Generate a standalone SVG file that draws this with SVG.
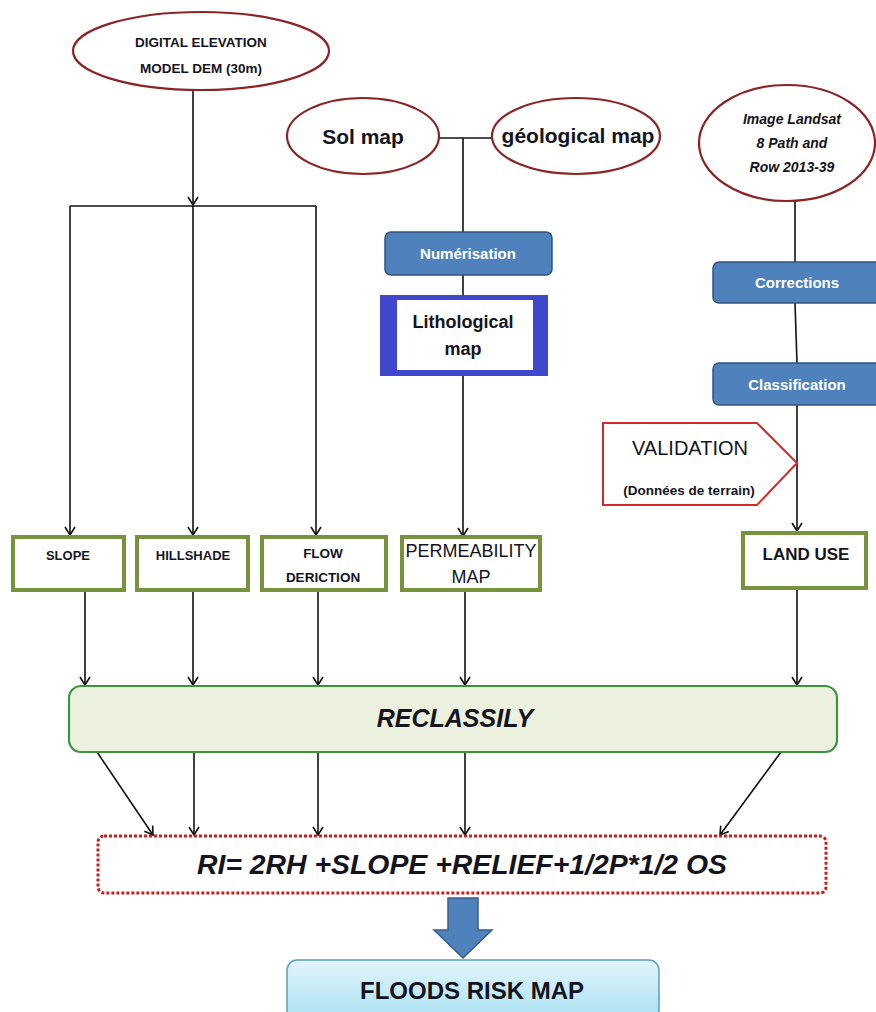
<svg xmlns="http://www.w3.org/2000/svg" width="876" height="1012" viewBox="0 0 876 1012">
<defs>
<marker id="arr" markerWidth="12" markerHeight="12" refX="10" refY="6" orient="auto" markerUnits="userSpaceOnUse">
<path d="M2,1 L10,6 L2,11" fill="none" stroke="#111" stroke-width="1.6"/>
</marker>
<linearGradient id="gblue" x1="0" y1="0" x2="0" y2="1">
<stop offset="0" stop-color="#e3f6fc"/>
<stop offset="1" stop-color="#a9e0f2"/>
</linearGradient>
<style>
.ell{fill:#fff;stroke:#8b2525;stroke-width:2.2}
.t{font-family:"Liberation Sans",Arial,sans-serif;fill:#141420;text-anchor:middle}
.b{font-weight:bold}
.i{font-style:italic}
.proc{fill:#4f81bd;stroke:#2f5481;stroke-width:1.5}
.pt{font-family:"Liberation Sans",Arial,sans-serif;fill:#fff;font-weight:bold;text-anchor:middle;font-size:15px}
.gbox{fill:#fff;stroke:#77933c;stroke-width:4}
.ln{fill:none;stroke:#111;stroke-width:1.6}
</style>
</defs>

<g id="connectors">
<line class="ln" x1="193" y1="90" x2="193" y2="205" marker-end="url(#arr)"/>
<line class="ln" x1="70" y1="206" x2="316" y2="206"/>
<line class="ln" x1="70" y1="206" x2="70" y2="535" marker-end="url(#arr)"/>
<line class="ln" x1="193" y1="206" x2="193" y2="535" marker-end="url(#arr)"/>
<line class="ln" x1="316" y1="206" x2="316" y2="535" marker-end="url(#arr)"/>
<line class="ln" x1="438" y1="138" x2="492" y2="138"/>
<line class="ln" x1="463" y1="138" x2="463" y2="232"/>
<line class="ln" x1="463" y1="275" x2="463" y2="296"/>
<line class="ln" x1="463" y1="376" x2="463" y2="536" marker-end="url(#arr)"/>
<line class="ln" x1="795" y1="200" x2="795" y2="262"/>
<line class="ln" x1="795" y1="303" x2="797" y2="363"/>
<line class="ln" x1="797" y1="405" x2="797" y2="531" marker-end="url(#arr)"/>
<line class="ln" x1="85" y1="590" x2="85" y2="685" marker-end="url(#arr)"/>
<line class="ln" x1="193" y1="590" x2="193" y2="685" marker-end="url(#arr)"/>
<line class="ln" x1="318" y1="590" x2="318" y2="685" marker-end="url(#arr)"/>
<line class="ln" x1="465" y1="590" x2="465" y2="685" marker-end="url(#arr)"/>
<line class="ln" x1="797" y1="588" x2="797" y2="685" marker-end="url(#arr)"/>
<line class="ln" x1="97" y1="752" x2="153" y2="835" marker-end="url(#arr)"/>
<line class="ln" x1="194" y1="752" x2="194" y2="835" marker-end="url(#arr)"/>
<line class="ln" x1="318" y1="752" x2="318" y2="835" marker-end="url(#arr)"/>
<line class="ln" x1="465" y1="752" x2="465" y2="835" marker-end="url(#arr)"/>
<line class="ln" x1="781" y1="752" x2="720" y2="835" marker-end="url(#arr)"/>
</g>

<g id="dem">
<ellipse class="ell" cx="201" cy="51" rx="128" ry="39"/>
<text class="t b" x="201" y="47" font-size="13.5">DIGITAL ELEVATION</text>
<text class="t b" x="201" y="73" font-size="13.5">MODEL DEM (30m)</text>
</g>

<g id="solmap">
<ellipse class="ell" cx="363" cy="136" rx="76" ry="38"/>
<text class="t b" x="363" y="144" font-size="21">Sol map</text>
</g>

<g id="geomap">
<ellipse class="ell" cx="576" cy="136" rx="84" ry="38"/>
<text class="t b" x="578" y="143" font-size="21">géological map</text>
</g>

<g id="landsat">
<ellipse class="ell" cx="787" cy="143" rx="88" ry="58"/>
<text class="t b i" x="792" y="124" font-size="14">Image Landsat</text>
<text class="t b i" x="792" y="148" font-size="14">8 Path and</text>
<text class="t b i" x="792" y="172" font-size="14">Row 2013-39</text>
</g>

<g id="numerisation">
<rect class="proc" x="385" y="232" width="167" height="43" rx="6"/>
<text class="pt" x="468" y="259">Numérisation</text>
</g>

<g id="lithological">
<rect x="380" y="295" width="168" height="81" fill="#3f48cc"/>
<rect x="397" y="300" width="136" height="70" fill="#fff"/>
<text class="t b" x="463" y="328" font-size="18">Lithological</text>
<text class="t b" x="463" y="355" font-size="18">map</text>
</g>

<g id="corrections">
<rect class="proc" x="713" y="262" width="170" height="41" rx="6"/>
<text class="pt" x="797" y="288">Corrections</text>
</g>

<g id="classification">
<rect class="proc" x="713" y="363" width="170" height="42" rx="6"/>
<text class="pt" x="797" y="390">Classification</text>
</g>

<g id="validation">
<polygon points="603,423 757,423 797,463 757,505 603,505" fill="#fff" stroke="#d42a2a" stroke-width="2"/>
<text class="t" x="690" y="455" font-size="20">VALIDATION</text>
<text class="t b" x="689" y="495" font-size="13.5">(Données de terrain)</text>
</g>

<g id="slope">
<rect class="gbox" x="13" y="537" width="111" height="53"/>
<text class="t b" x="68" y="560" font-size="13">SLOPE</text>
</g>

<g id="hillshade">
<rect class="gbox" x="137" y="537" width="111" height="53"/>
<text class="t b" x="193" y="560" font-size="13">HILLSHADE</text>
</g>

<g id="flow">
<rect class="gbox" x="262" y="537" width="124" height="53"/>
<text class="t b" x="323" y="558" font-size="13.5">FLOW</text>
<text class="t b" x="323" y="582" font-size="13.5">DERICTION</text>
</g>

<g id="permeability">
<rect class="gbox" x="402" y="537" width="138" height="53"/>
<text class="t" x="471" y="557" font-size="18">PERMEABILITY</text>
<text class="t" x="471" y="583" font-size="18">MAP</text>
</g>

<g id="landuse">
<rect class="gbox" x="743" y="533" width="123" height="55"/>
<text class="t b" x="806" y="560" font-size="17">LAND USE</text>
</g>

<g id="reclassily">
<rect x="69" y="686" width="768" height="66" rx="12" fill="#ebf1de" stroke="#3a963a" stroke-width="2.2"/>
<text class="t b i" x="455" y="727" font-size="25">RECLASSILY</text>
</g>

<g id="formula">
<rect x="98" y="836" width="728" height="57" rx="6" fill="#fff" stroke="#c42020" stroke-width="3" stroke-dasharray="3,2"/>
<text class="t b i" x="462" y="874" font-size="27" textLength="530" lengthAdjust="spacingAndGlyphs">RI= 2RH +SLOPE +RELIEF+1/2P*1/2 OS</text>
</g>

<g id="bigarrow">
<polygon points="448,898 478,898 478,930 492,930 463,958 434,930 448,930" fill="#4f81bd" stroke="#385d8a" stroke-width="1.5"/>
</g>

<g id="floods">
<rect x="287" y="960" width="372" height="60" rx="10" fill="url(#gblue)" stroke="#5b9fb8" stroke-width="1.5"/>
<text class="t b" x="472" y="999" font-size="24">FLOODS RISK MAP</text>
</g>
</svg>
